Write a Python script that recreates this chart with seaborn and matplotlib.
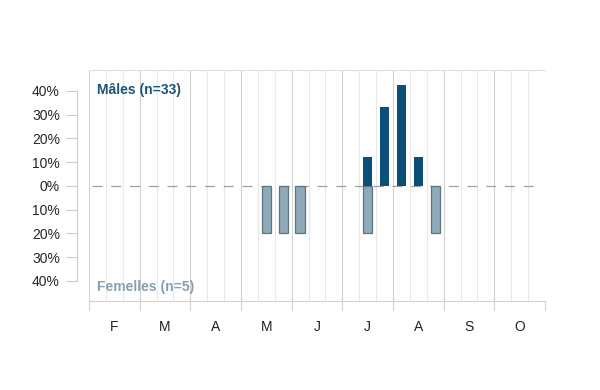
import matplotlib
matplotlib.use("Agg")
import matplotlib.pyplot as plt
import seaborn as sns
import pandas as pd

months = ["F", "M", "A", "M", "J", "J", "A", "S", "O"]
decades = [f"{m}{i}-{d}" for i, m in enumerate(months) for d in (1, 2, 3)]

males_pct = [0, 0, 0, 0, 0, 0, 0, 0, 0,
             0, 0, 0, 0, 0, 0, 0, 12.1, 33.3,
             42.4, 12.1, 0, 0, 0, 0, 0, 0, 0]
females_pct = [0, 0, 0, 0, 0, 0, 0, 0, 0,
               0, 20, 20, 20, 0, 0, 0, 20, 0,
               0, 0, 20, 0, 0, 0, 0, 0, 0]
yticks = [-40, -30, -20, -10, 0, 10, 20, 30, 40]
male_label = "Mâles (n=33)"
female_label = "Femelles (n=5)"

male_col = "#0b4f78"
fem_col = "#8fa9b9"
fem_edge = "#5d7485"

df_m = pd.DataFrame({"decade": decades, "value": males_pct})
df_f = pd.DataFrame({"decade": decades, "value": [-v for v in females_pct]})
df_m = df_m[df_m["value"] != 0]
df_f = df_f[df_f["value"] != 0]

sns.set_style("white")
plt.rcParams["font.family"] = ["Liberation Sans", "DejaVu Sans"]

fig = plt.figure(figsize=(6, 3.9), dpi=100)
ax = fig.add_axes([89 / 600, 1 - 301 / 390, 456 / 600, 231 / 390])

n = len(decades)
# grid lines
for k in range(n + 1):
    xpos = k - 0.5
    major = (k % 3 == 0)
    ax.axvline(xpos, color="#d2d2d2" if major else "#e8e8e8", lw=0.8, zorder=0)

ax.plot([-0.3, n - 0.7], [0, 0], color="#a0a0a0", lw=0.9, ls=(0, (8, 7)), zorder=1)

sns.barplot(data=df_m, x="decade", y="value", order=decades, color=male_col,
            width=0.55, ax=ax, saturation=1, zorder=3, linewidth=0)
sns.barplot(data=df_f, x="decade", y="value", order=decades, color=fem_col,
            width=0.55, ax=ax, saturation=1, zorder=2, edgecolor=fem_edge,
            linewidth=0.9)

ax.set_xlim(-0.5, n - 0.5)
ax.set_ylim(-48.5, 48.8)
ax.set_xlabel("")
ax.set_ylabel("")

ax.set_yticks(yticks)
ax.set_yticklabels([f"{abs(v)}%" for v in yticks], fontsize=10.5, color="#222222")
ax.set_xticks([3 * i + 1 for i in range(len(months))])
ax.set_xticklabels(months, fontsize=10, color="#222222")
ax.tick_params(axis="x", length=0, pad=14, bottom=False)
ax.tick_params(axis="y", left=True, length=8, width=0.8, color="#cccccc", pad=4)

# major ticks below x axis at month boundaries
for i in range(len(months) + 1):
    ax.plot([3 * i - 0.5, 3 * i - 0.5], [-48.5, -52.3], color="#d2d2d2", lw=0.8,
            clip_on=False, zorder=0)

ax.spines["right"].set_visible(False)
ax.spines["top"].set_color("#e0e0e0")
ax.spines["top"].set_linewidth(0.8)
ax.spines["bottom"].set_color("#d2d2d2")
ax.spines["bottom"].set_linewidth(0.8)
ax.spines["left"].set_position(("outward", 9))
ax.spines["left"].set_bounds(-40, 40)
ax.spines["left"].set_color("#cccccc")
ax.spines["left"].set_linewidth(0.8)

ax.text(0.018, 0.915, male_label, transform=ax.transAxes, fontsize=10,
        fontweight="bold", color="#1b5479", ha="left", va="center")
ax.text(0.018, 0.062, female_label, transform=ax.transAxes, fontsize=10,
        fontweight="bold", color="#8a9fae", ha="left", va="center")

fig.savefig("out.png", dpi=100)
